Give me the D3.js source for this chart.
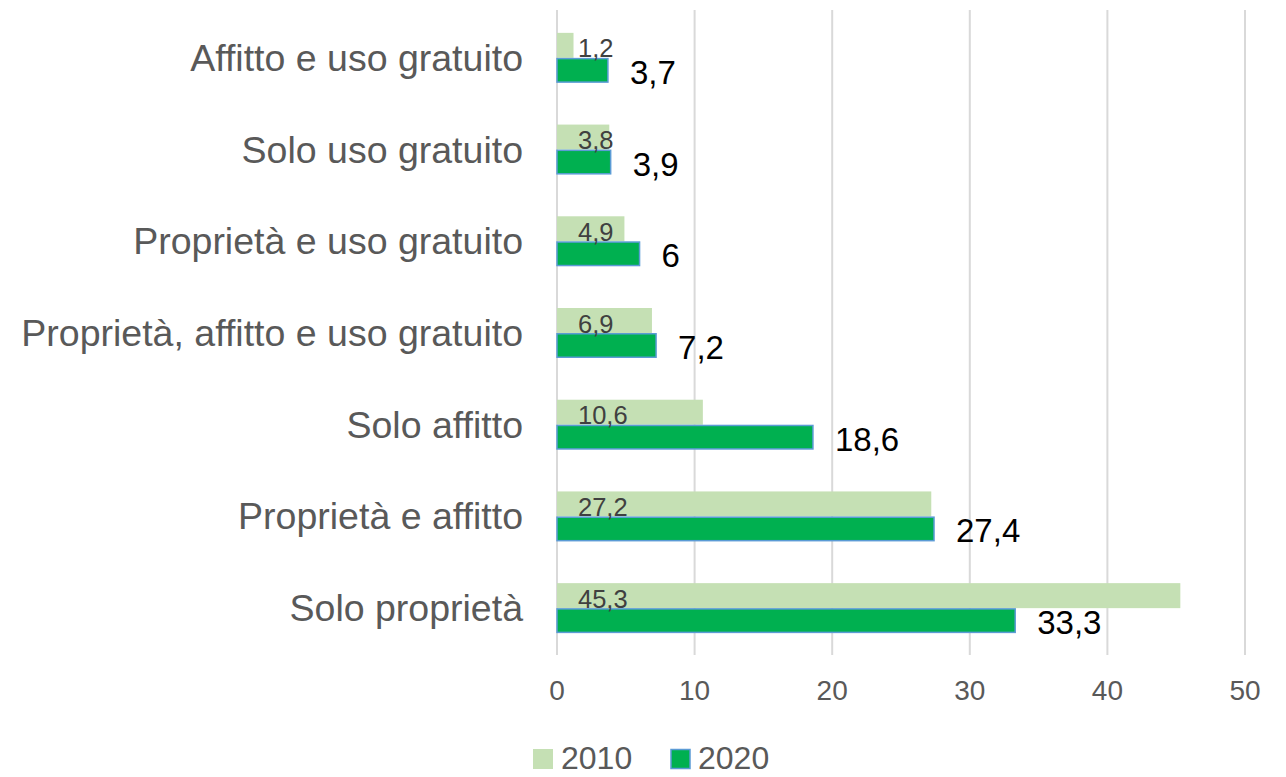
<!DOCTYPE html>
<html>
<head>
<meta charset="utf-8">
<script src="https://cdn.jsdelivr.net/npm/d3@7"></script>
<style>
  body { margin: 0; background: #fff; }
  svg { display: block; font-family: "Liberation Sans", Arial, sans-serif; }
</style>
</head>
<body>
<div id="chart"></div>
<script>
// DATA
const categories = [
  "Affitto e uso gratuito",
  "Solo uso gratuito",
  "Proprietà e uso gratuito",
  "Proprietà, affitto e uso gratuito",
  "Solo affitto",
  "Proprietà e affitto",
  "Solo proprietà"
];
const values2010 = [1.2, 3.8, 4.9, 6.9, 10.6, 27.2, 45.3];
const values2020 = [3.7, 3.9, 6, 7.2, 18.6, 27.4, 33.3];
const seriesNames = ["2010", "2020"];
const xTicks = [0, 10, 20, 30, 40, 50];

const W = 1286, H = 777;
const LIGHT = "#C5E0B4", DARK = "#00B050", EDGE = "#5B9BD5";
const GRID = "#D9D9D9", TEXT = "#595959";

const fmt = (v) => String(v).replace(".", ",");

const svg = d3.select("#chart").append("svg")
  .attr("width", W).attr("height", H);

// SCALES
const x = d3.scaleLinear().domain([0, 50]).range([557, 1245]);
const y = d3.scaleBand().domain(categories).range([12, 654]);
const barH = 25;

// GRID
svg.append("g").selectAll("line")
  .data(xTicks)
  .join("line")
  .attr("x1", d => x(d)).attr("x2", d => x(d))
  .attr("y1", 10).attr("y2", 655)
  .attr("stroke", GRID).attr("stroke-width", 2);

// X AXIS LABELS
svg.append("g").selectAll("text")
  .data(xTicks)
  .join("text")
  .attr("x", d => x(d))
  .attr("y", 690)
  .attr("text-anchor", "middle")
  .attr("dominant-baseline", "central")
  .style("font-size", "28px")
  .style("fill", TEXT)
  .text(d => d);

// CATEGORY LABELS
svg.append("g").selectAll("text")
  .data(categories)
  .join("text")
  .attr("x", 523)
  .attr("y", d => y(d) + y.bandwidth() / 2)
  .attr("text-anchor", "end")
  .attr("dominant-baseline", "central")
  .style("font-size", "37.5px")
  .style("fill", TEXT)
  .text(d => d);

// BARS 2010
svg.append("g").selectAll("rect")
  .data(categories)
  .join("rect")
  .attr("x", x(0))
  .attr("y", d => y(d) + y.bandwidth() / 2 - barH)
  .attr("width", (d, i) => x(values2010[i]) - x(0))
  .attr("height", barH)
  .attr("fill", LIGHT);

// BARS 2020
svg.append("g").selectAll("rect")
  .data(categories)
  .join("rect")
  .attr("x", x(0))
  .attr("y", d => y(d) + y.bandwidth() / 2 + 0.75)
  .attr("width", (d, i) => x(values2020[i]) - x(0))
  .attr("height", barH - 1.5)
  .attr("fill", DARK)
  .attr("stroke", EDGE)
  .attr("stroke-width", 1.5);

// LABELS 2010 (inside base)
svg.append("g").selectAll("text")
  .data(categories)
  .join("text")
  .attr("x", x(0) + 21)
  .attr("y", d => y(d) + y.bandwidth() / 2 - barH / 2 + 3)
  .attr("dominant-baseline", "central")
  .style("font-size", "25.5px")
  .style("fill", "#404040")
  .text((d, i) => fmt(values2010[i]));

// LABELS 2020 (outside end)
svg.append("g").selectAll("text")
  .data(categories)
  .join("text")
  .attr("x", (d, i) => x(values2020[i]) + 22)
  .attr("y", d => y(d) + y.bandwidth() / 2 + barH / 2 + 2)
  .attr("dominant-baseline", "central")
  .style("font-size", "33px")
  .style("fill", "#000")
  .text((d, i) => fmt(values2020[i]));

// LEGEND
const legendX = [533, 670];
const legend = svg.append("g").selectAll("g")
  .data(seriesNames)
  .join("g")
  .attr("transform", (d, i) => `translate(${legendX[i]}, 759)`);

legend.append("rect")
  .attr("x", (d, i) => i === 1 ? 1 : 0)
  .attr("y", (d, i) => i === 1 ? -9.5 : -10)
  .attr("width", (d, i) => i === 1 ? 19 : 20)
  .attr("height", (d, i) => i === 1 ? 19 : 20)
  .attr("fill", (d, i) => i === 0 ? LIGHT : DARK)
  .attr("stroke", (d, i) => i === 0 ? "none" : EDGE)
  .attr("stroke-width", 1.5);

legend.append("text")
  .attr("x", 28)
  .attr("y", 10)
  .style("font-size", "32px")
  .style("fill", TEXT)
  .text(d => d);
</script>
</body>
</html>
